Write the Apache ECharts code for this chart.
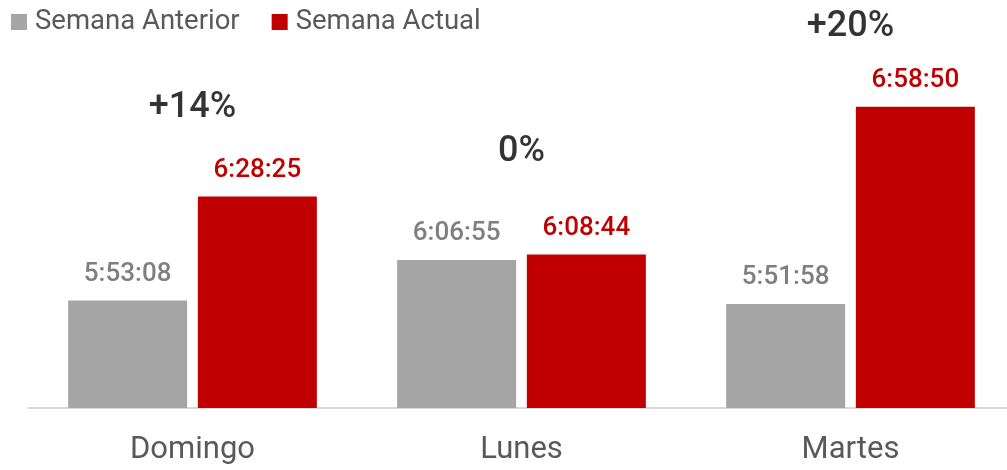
<!DOCTYPE html>
<html>
<head>
<meta charset="utf-8">
<script src="https://cdn.jsdelivr.net/npm/echarts@6/dist/echarts.min.js"></script>
<style>
html,body{margin:0;padding:0;background:#fff;}
#c{width:1007px;height:470px;}
</style>
</head>
<body>
<div id="c"></div>
<script>
const categories = ['Domingo', 'Lunes', 'Martes'];
const seriesNames = ['Semana Anterior', 'Semana Actual'];
const prevWeek = ['5:53:08', '6:06:55', '5:51:58'];
const currWeek = ['6:28:25', '6:08:44', '6:58:50'];
const changeLabels = ['+14%', '0%', '+20%'];
// vertical anchor (in seconds on the value axis) where each change label sits
const changeAnchor = ['6:58:26', '6:43:31', '7:25:55'];

function toSec(s) {
  const p = s.split(':').map(Number);
  return p[0] * 3600 + p[1] * 60 + p[2];
}
function toHms(v) {
  v = Math.round(v);
  const h = Math.floor(v / 3600);
  const m = Math.floor((v % 3600) / 60);
  const s = v % 60;
  return h + ':' + String(m).padStart(2, '0') + ':' + String(s).padStart(2, '0');
}

const FONT = 'Roboto';
const chart = echarts.init(document.getElementById('c'));
chart.setOption({
  animation: false,
  textStyle: { fontFamily: FONT },
  legend: {
    data: seriesNames,
    left: 6,
    top: 3,
    itemWidth: 16,
    itemHeight: 16,
    itemGap: 32,
    icon: 'rect',
    textStyle: { fontSize: 27.5, color: '#595959', fontFamily: FONT, padding: [0, 0, 0, 3] }
  },
  grid: { left: 28, width: 987, top: 15, bottom: 62, outerBoundsMode: 'none', containLabel: false },
  xAxis: {
    type: 'category',
    data: categories,
    axisLine: { lineStyle: { color: '#D9D9D9', width: 2 } },
    axisTick: { show: false },
    axisLabel: { fontSize: 31, color: '#595959', margin: 27, fontFamily: FONT }
  },
  yAxis: {
    type: 'value',
    min: 19000,
    max: 27000,
    show: false,
    splitLine: { show: false }
  },
  series: [
    {
      name: seriesNames[0],
      type: 'bar',
      data: prevWeek.map(toSec),
      barWidth: 119,
      barGap: '9%',
      itemStyle: { color: '#A5A5A5' },
      label: {
        show: true, position: 'top', distance: 13,
        formatter: p => toHms(p.value),
        fontSize: 26, fontWeight: 500, color: '#7F7F7F', fontFamily: FONT
      }
    },
    {
      name: seriesNames[1],
      type: 'bar',
      data: currWeek.map(toSec),
      barWidth: 119,
      barGap: '9%',
      itemStyle: { color: '#C00000' },
      label: {
        show: true, position: 'top', distance: 13,
        formatter: p => toHms(p.value),
        fontSize: 26, fontWeight: 500, color: '#C00000', fontFamily: FONT
      }
    },
    {
      name: 'cambio',
      type: 'scatter',
      data: changeAnchor.map(toSec),
      symbolSize: 0,
      silent: true,
      label: {
        show: true, position: 'inside',
        formatter: p => changeLabels[p.dataIndex],
        fontSize: 36, fontWeight: 500, color: '#000000', fontFamily: FONT
      }
    }
  ]
});
</script>
</body>
</html>
